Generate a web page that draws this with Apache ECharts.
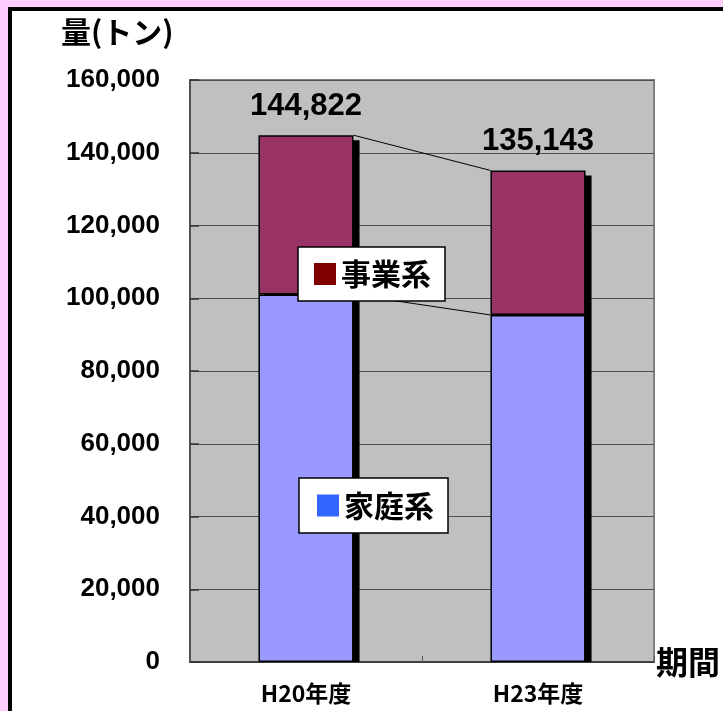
<!DOCTYPE html>
<html>
<head>
<meta charset="utf-8">
<script src="https://cdn.jsdelivr.net/npm/echarts@6/dist/echarts.min.js"></script>
<style>
html,body{margin:0;padding:0;background:#ffccff;width:723px;height:711px;overflow:hidden;}
#frame{position:absolute;left:8px;top:7px;width:800px;height:800px;background:#fff;border-left:4px solid #000;border-top:4px solid #000;}
#chart{position:absolute;left:0;top:0;width:723px;height:711px;}
</style>
</head>
<body>
<div id="frame"></div>
<div id="chart"></div>
<script>
const categories = ['H20年度', 'H23年度'];
const household = [101000, 95400];   // 家庭系
const business = [43822, 39743];     // 事業系
const totals = [144822, 135143];
const yTicks = [0, 20000, 40000, 60000, 80000, 100000, 120000, 140000, 160000];

const fmt = v => String(v).replace(/\B(?=(\d{3})+(?!\d))/g, ',');
const BAR_RATIO = 0.41;

const seriesLineData = [];
for (let i = 0; i < categories.length - 1; i++) {
  seriesLineData.push([i, household[i], household[i + 1]]);
  seriesLineData.push([i, totals[i], totals[i + 1]]);
}
const shadowData = categories.map((c, i) => [i, totals[i]]);

const chart = echarts.init(document.getElementById('chart'), null, {renderer: 'canvas'});
chart.setOption({
  backgroundColor: 'transparent',
  animation: false,
  title: {
    text: '量(トン)', left: 56, top: 12,
    textStyle: {fontFamily: 'Noto Sans CJK JP', fontSize: 30, fontWeight: 'bold', color: '#000'}
  },
  grid: {
    left: 190, right: 68, top: 80, bottom: 49,
    show: true, backgroundColor: '#c0c0c0', borderColor: '#808080', borderWidth: 2
  },
  legend: [
    {
      data: [{name: '事業系', itemStyle: {color: '#800000', borderWidth: 0}}],
      left: 298, top: 247, orient: 'horizontal', selectedMode: false, z: 10,
      icon: 'rect', itemWidth: 22, itemHeight: 22,
      backgroundColor: '#fff', borderColor: '#000', borderWidth: 1.5,
      padding: [10, 14, 10, 16],
      textStyle: {fontFamily: 'Noto Sans CJK JP', fontSize: 30, fontWeight: 'bold', color: '#000', lineHeight: 34}
    },
    {
      data: [{name: '家庭系', itemStyle: {color: '#3366ff', borderWidth: 0}}],
      left: 299, top: 478, orient: 'horizontal', selectedMode: false, z: 10,
      icon: 'rect', itemWidth: 22, itemHeight: 22,
      backgroundColor: '#fff', borderColor: '#000', borderWidth: 1.5,
      padding: [10, 14, 10, 18],
      textStyle: {fontFamily: 'Noto Sans CJK JP', fontSize: 30, fontWeight: 'bold', color: '#000', lineHeight: 35}
    }
  ],
  xAxis: {
    type: 'category', data: categories,
    name: '期間', nameLocation: 'end', nameGap: 2,
    nameTextStyle: {fontFamily: 'Noto Sans CJK JP', fontSize: 32, fontWeight: 'bold', color: '#000', verticalAlign: 'middle', padding: [16, 0, 0, 0]},
    axisLine: {show: true, lineStyle: {color: '#333', width: 1.5}},
    axisTick: {show: true, inside: true, length: 6, lineStyle: {color: '#555'}},
    axisLabel: {margin: 20, fontFamily: 'Noto Sans CJK JP', fontSize: 23, fontWeight: 'bold', color: '#000'},
    splitLine: {show: false}
  },
  yAxis: {
    type: 'value', min: yTicks[0], max: yTicks[yTicks.length - 1], interval: yTicks[1] - yTicks[0],
    axisLine: {show: true, lineStyle: {color: '#404040', width: 1.5}},
    axisTick: {show: true, inside: true, length: 9, lineStyle: {color: '#333', width: 1.5}},
    axisLabel: {margin: 30, fontFamily: 'Liberation Sans', fontSize: 26, fontWeight: 'bold', color: '#000', formatter: v => fmt(v)},
    splitLine: {show: true, lineStyle: {color: '#505050', width: 1}}
  },
  series: [
    {
      type: 'custom', z: 1, silent: true,
      data: shadowData,
      encode: {x: 0, y: 1},
      renderItem: function (params, api) {
        const i = api.value(0);
        const pTop = api.coord([i, api.value(1)]);
        const pBot = api.coord([i, 0]);
        const half = api.size([1, 0])[0] * BAR_RATIO / 2;
        return {
          type: 'rect',
          shape: {x: pTop[0] - half + 6, y: pTop[1] + 5, width: half * 2, height: pBot[1] - pTop[1] - 5},
          style: {fill: '#000'}
        };
      }
    },
    {
      name: '家庭系', type: 'bar', stack: 'total', data: household,
      barWidth: (BAR_RATIO * 100) + '%', z: 2,
      itemStyle: {color: '#9999ff', borderColor: '#000', borderWidth: 1.5}
    },
    {
      name: '事業系', type: 'bar', stack: 'total', data: business,
      barWidth: (BAR_RATIO * 100) + '%', z: 2,
      itemStyle: {color: '#993366', borderColor: '#000', borderWidth: 1.5},
      label: {
        show: true, position: 'top', distance: 13,
        formatter: p => fmt(totals[p.dataIndex]),
        fontFamily: 'Liberation Sans', fontSize: 31, fontWeight: 'bold', color: '#000'
      }
    },
    {
      type: 'custom', z: 3, silent: true,
      data: seriesLineData,
      encode: {x: 0, y: 1},
      renderItem: function (params, api) {
        const i = api.value(0);
        const p1 = api.coord([i, api.value(1)]);
        const p2 = api.coord([i + 1, api.value(2)]);
        const half = api.size([1, 0])[0] * BAR_RATIO / 2;
        return {
          type: 'line',
          shape: {x1: p1[0] + half, y1: p1[1], x2: p2[0] - half, y2: p2[1]},
          style: {stroke: '#000', lineWidth: 1}
        };
      }
    }
  ]
});
</script>
</body>
</html>
